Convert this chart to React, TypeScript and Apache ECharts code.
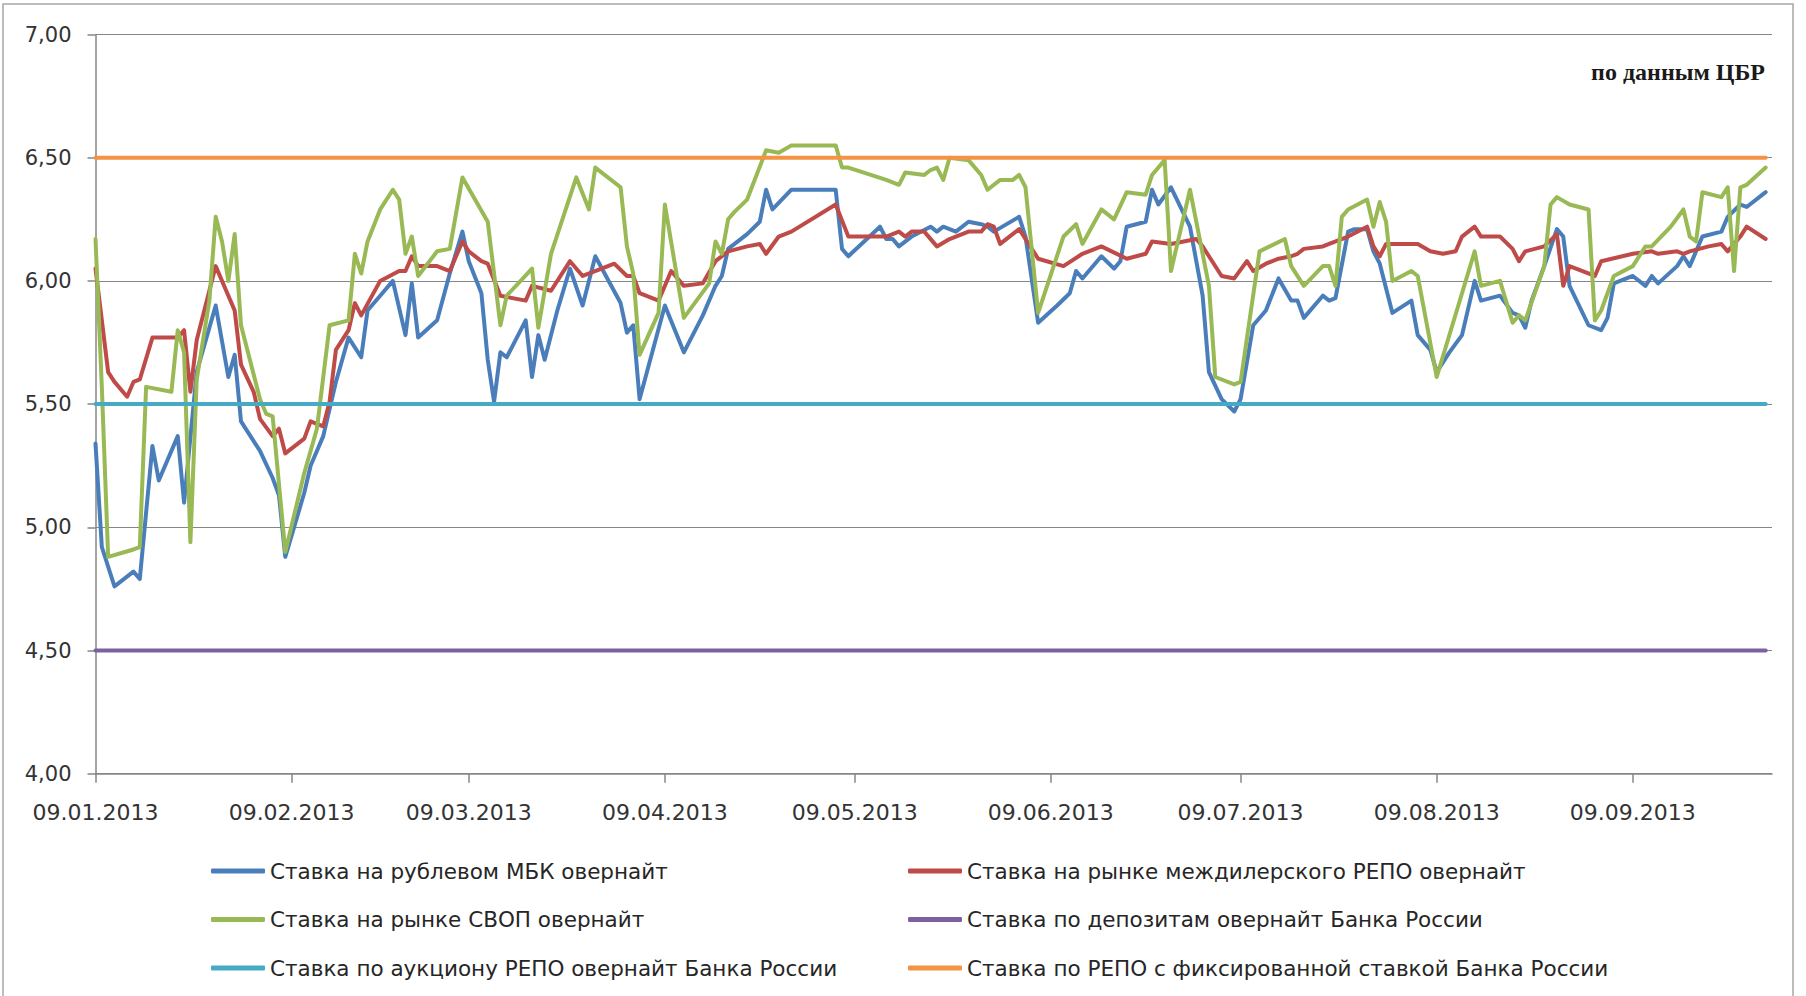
import React, { useEffect, useRef } from 'react';
import * as echarts from 'echarts';

const seriesNames = [
  'Ставка на рублевом МБК овернайт',
  'Ставка на рынке междилерского РЕПО овернайт',
  'Ставка на рынке СВОП овернайт',
  'Ставка по депозитам овернайт Банка России',
  'Ставка по аукциону РЕПО овернайт Банка России',
  'Ставка по РЕПО с фиксированной ставкой Банка России',
];
const seriesColors = ['#4A7EBB', '#BE4B48', '#98B954', '#7D60A0', '#46AAC5', '#F49343'];

const tickLabels = [
  '09.01.2013', '09.02.2013', '09.03.2013', '09.04.2013', '09.05.2013',
  '09.06.2013', '09.07.2013', '09.08.2013', '09.09.2013',
];

const periodStart = '2013-01-09';
const periodEnd = '2013-09-30';
const axisEnd = '2013-10-01';

const depositRate = 4.5;
const auctionRate = 5.5;
const fixedRate = 6.5;

const mbk: [string, number][] = [
  ['2013-01-09', 5.34], ['2013-01-10', 4.92], ['2013-01-12', 4.76], ['2013-01-15', 4.82], ['2013-01-16', 4.79],
  ['2013-01-18', 5.33], ['2013-01-19', 5.19], ['2013-01-22', 5.37], ['2013-01-23', 5.10], ['2013-01-25', 5.63],
  ['2013-01-28', 5.90], ['2013-01-30', 5.61], ['2013-01-31', 5.70], ['2013-02-01', 5.43], ['2013-02-04', 5.31],
  ['2013-02-06', 5.20], ['2013-02-07', 5.13], ['2013-02-08', 4.88], ['2013-02-11', 5.14], ['2013-02-12', 5.25],
  ['2013-02-14', 5.37], ['2013-02-16', 5.59], ['2013-02-18', 5.77], ['2013-02-20', 5.69], ['2013-02-21', 5.88],
  ['2013-02-23', 5.94], ['2013-02-25', 6.00], ['2013-02-27', 5.78], ['2013-02-28', 5.99], ['2013-03-01', 5.77],
  ['2013-03-04', 5.84], ['2013-03-06', 6.03], ['2013-03-08', 6.20], ['2013-03-09', 6.08], ['2013-03-11', 5.95],
  ['2013-03-12', 5.68], ['2013-03-13', 5.51], ['2013-03-14', 5.71], ['2013-03-15', 5.69], ['2013-03-18', 5.84],
  ['2013-03-19', 5.61], ['2013-03-20', 5.78], ['2013-03-21', 5.68], ['2013-03-23', 5.88], ['2013-03-25', 6.05],
  ['2013-03-27', 5.90], ['2013-03-29', 6.10], ['2013-04-02', 5.91], ['2013-04-03', 5.79], ['2013-04-04', 5.82],
  ['2013-04-05', 5.52], ['2013-04-09', 5.90], ['2013-04-12', 5.71], ['2013-04-15', 5.86], ['2013-04-17', 5.98],
  ['2013-04-18', 6.02], ['2013-04-19', 6.13], ['2013-04-22', 6.19], ['2013-04-24', 6.24], ['2013-04-25', 6.37],
  ['2013-04-26', 6.29], ['2013-04-29', 6.37], ['2013-05-06', 6.37], ['2013-05-07', 6.13], ['2013-05-08', 6.10],
  ['2013-05-13', 6.22], ['2013-05-14', 6.17], ['2013-05-15', 6.17], ['2013-05-16', 6.14], ['2013-05-18', 6.18],
  ['2013-05-21', 6.22], ['2013-05-22', 6.20], ['2013-05-23', 6.22], ['2013-05-25', 6.20], ['2013-05-27', 6.24],
  ['2013-05-29', 6.23], ['2013-05-30', 6.22], ['2013-05-31', 6.20], ['2013-06-04', 6.26], ['2013-06-05', 6.18],
  ['2013-06-07', 5.83], ['2013-06-10', 5.90], ['2013-06-12', 5.95], ['2013-06-13', 6.04], ['2013-06-14', 6.01],
  ['2013-06-17', 6.10], ['2013-06-19', 6.05], ['2013-06-20', 6.08], ['2013-06-21', 6.22], ['2013-06-24', 6.24],
  ['2013-06-25', 6.37], ['2013-06-26', 6.31], ['2013-06-28', 6.38], ['2013-07-01', 6.22], ['2013-07-03', 5.94],
  ['2013-07-04', 5.63], ['2013-07-06', 5.52], ['2013-07-08', 5.47], ['2013-07-09', 5.52], ['2013-07-11', 5.82],
  ['2013-07-13', 5.88], ['2013-07-15', 6.01], ['2013-07-17', 5.92], ['2013-07-18', 5.92], ['2013-07-19', 5.85],
  ['2013-07-22', 5.94], ['2013-07-23', 5.92], ['2013-07-24', 5.93], ['2013-07-26', 6.20], ['2013-07-27', 6.21],
  ['2013-07-29', 6.21], ['2013-07-30', 6.12], ['2013-07-31', 6.07], ['2013-08-02', 5.87], ['2013-08-05', 5.92],
  ['2013-08-06', 5.78], ['2013-08-08', 5.72], ['2013-08-09', 5.63], ['2013-08-11', 5.71], ['2013-08-13', 5.78],
  ['2013-08-15', 6.00], ['2013-08-16', 5.92], ['2013-08-19', 5.94], ['2013-08-21', 5.87], ['2013-08-22', 5.86],
  ['2013-08-23', 5.81], ['2013-08-24', 5.92], ['2013-08-26', 6.06], ['2013-08-28', 6.21], ['2013-08-29', 6.18],
  ['2013-08-30', 5.98], ['2013-09-02', 5.82], ['2013-09-04', 5.80], ['2013-09-05', 5.85], ['2013-09-06', 5.99],
  ['2013-09-09', 6.02], ['2013-09-11', 5.98], ['2013-09-12', 6.02], ['2013-09-13', 5.99], ['2013-09-16', 6.06],
  ['2013-09-17', 6.10], ['2013-09-18', 6.06], ['2013-09-20', 6.18], ['2013-09-23', 6.20], ['2013-09-24', 6.26],
  ['2013-09-26', 6.31], ['2013-09-27', 6.30], ['2013-09-30', 6.36],
];

const repo: [string, number][] = [
  ['2013-01-09', 6.05], ['2013-01-11', 5.63], ['2013-01-12', 5.59], ['2013-01-14', 5.53], ['2013-01-15', 5.59],
  ['2013-01-16', 5.60], ['2013-01-18', 5.77], ['2013-01-22', 5.77], ['2013-01-23', 5.80], ['2013-01-24', 5.55],
  ['2013-01-25', 5.76], ['2013-01-28', 6.06], ['2013-01-30', 5.94], ['2013-01-31', 5.88], ['2013-02-01', 5.66],
  ['2013-02-03', 5.55], ['2013-02-04', 5.44], ['2013-02-06', 5.37], ['2013-02-07', 5.40], ['2013-02-08', 5.30],
  ['2013-02-11', 5.36], ['2013-02-12', 5.43], ['2013-02-14', 5.41], ['2013-02-15', 5.51], ['2013-02-16', 5.72],
  ['2013-02-18', 5.80], ['2013-02-19', 5.91], ['2013-02-20', 5.86], ['2013-02-23', 6.00], ['2013-02-26', 6.04],
  ['2013-02-27', 6.04], ['2013-02-28', 6.10], ['2013-03-01', 6.06], ['2013-03-04', 6.06], ['2013-03-06', 6.04],
  ['2013-03-08', 6.16], ['2013-03-09', 6.12], ['2013-03-11', 6.08], ['2013-03-12', 6.07], ['2013-03-14', 5.94],
  ['2013-03-18', 5.92], ['2013-03-19', 5.98], ['2013-03-22', 5.96], ['2013-03-25', 6.08], ['2013-03-27', 6.02],
  ['2013-03-30', 6.05], ['2013-04-01', 6.07], ['2013-04-03', 6.02], ['2013-04-04', 6.02], ['2013-04-05', 5.95],
  ['2013-04-08', 5.92], ['2013-04-10', 6.04], ['2013-04-12', 5.98], ['2013-04-15', 5.99], ['2013-04-17', 6.08],
  ['2013-04-19', 6.12], ['2013-04-22', 6.14], ['2013-04-24', 6.15], ['2013-04-25', 6.11], ['2013-04-27', 6.18],
  ['2013-04-29', 6.20], ['2013-05-06', 6.31], ['2013-05-08', 6.18], ['2013-05-12', 6.18], ['2013-05-14', 6.18],
  ['2013-05-16', 6.20], ['2013-05-17', 6.18], ['2013-05-18', 6.20], ['2013-05-20', 6.20], ['2013-05-22', 6.14],
  ['2013-05-24', 6.17], ['2013-05-27', 6.20], ['2013-05-29', 6.20], ['2013-05-30', 6.23], ['2013-05-31', 6.22],
  ['2013-06-01', 6.15], ['2013-06-04', 6.21], ['2013-06-05', 6.17], ['2013-06-07', 6.09], ['2013-06-11', 6.06],
  ['2013-06-14', 6.11], ['2013-06-17', 6.14], ['2013-06-21', 6.09], ['2013-06-24', 6.11], ['2013-06-25', 6.16],
  ['2013-06-28', 6.15], ['2013-07-02', 6.17], ['2013-07-03', 6.14], ['2013-07-04', 6.10], ['2013-07-06', 6.02],
  ['2013-07-08', 6.01], ['2013-07-10', 6.08], ['2013-07-11', 6.04], ['2013-07-13', 6.07], ['2013-07-15', 6.09],
  ['2013-07-17', 6.10], ['2013-07-18', 6.11], ['2013-07-19', 6.13], ['2013-07-22', 6.14], ['2013-07-23', 6.15],
  ['2013-07-26', 6.18], ['2013-07-29', 6.22], ['2013-07-30', 6.14], ['2013-07-31', 6.10], ['2013-08-01', 6.15],
  ['2013-08-06', 6.15], ['2013-08-08', 6.12], ['2013-08-10', 6.11], ['2013-08-12', 6.12], ['2013-08-13', 6.18],
  ['2013-08-15', 6.22], ['2013-08-16', 6.18], ['2013-08-19', 6.18], ['2013-08-21', 6.13], ['2013-08-22', 6.08],
  ['2013-08-23', 6.12], ['2013-08-26', 6.14], ['2013-08-28', 6.19], ['2013-08-29', 5.98], ['2013-08-30', 6.06],
  ['2013-09-03', 6.02], ['2013-09-04', 6.08], ['2013-09-09', 6.11], ['2013-09-12', 6.12], ['2013-09-13', 6.11],
  ['2013-09-16', 6.12], ['2013-09-17', 6.11], ['2013-09-18', 6.12], ['2013-09-21', 6.14], ['2013-09-23', 6.15],
  ['2013-09-24', 6.12], ['2013-09-26', 6.18], ['2013-09-27', 6.22], ['2013-09-30', 6.17],
];

const swap: [string, number][] = [
  ['2013-01-09', 6.17], ['2013-01-10', 5.57], ['2013-01-11', 4.88], ['2013-01-15', 4.91], ['2013-01-16', 4.92],
  ['2013-01-17', 5.57], ['2013-01-21', 5.55], ['2013-01-22', 5.80], ['2013-01-23', 5.71], ['2013-01-24', 4.94],
  ['2013-01-25', 5.60], ['2013-01-27', 5.92], ['2013-01-28', 6.26], ['2013-01-29', 6.16], ['2013-01-30', 6.00],
  ['2013-01-31', 6.19], ['2013-02-01', 5.82], ['2013-02-04', 5.52], ['2013-02-05', 5.46], ['2013-02-06', 5.45],
  ['2013-02-08', 4.90], ['2013-02-11', 5.22], ['2013-02-13', 5.40], ['2013-02-15', 5.82], ['2013-02-18', 5.84],
  ['2013-02-19', 6.11], ['2013-02-20', 6.03], ['2013-02-21', 6.16], ['2013-02-23', 6.29], ['2013-02-25', 6.37],
  ['2013-02-26', 6.33], ['2013-02-27', 6.11], ['2013-02-28', 6.18], ['2013-03-01', 6.02], ['2013-03-04', 6.12],
  ['2013-03-06', 6.13], ['2013-03-08', 6.42], ['2013-03-12', 6.24], ['2013-03-14', 5.82], ['2013-03-15', 5.94],
  ['2013-03-19', 6.05], ['2013-03-20', 5.81], ['2013-03-22', 6.11], ['2013-03-26', 6.42], ['2013-03-28', 6.29],
  ['2013-03-29', 6.46], ['2013-04-02', 6.38], ['2013-04-03', 6.14], ['2013-04-04', 6.03], ['2013-04-05', 5.70],
  ['2013-04-08', 5.87], ['2013-04-09', 6.31], ['2013-04-12', 5.85], ['2013-04-16', 5.99], ['2013-04-17', 6.16],
  ['2013-04-18', 6.11], ['2013-04-19', 6.25], ['2013-04-20', 6.28], ['2013-04-22', 6.33], ['2013-04-25', 6.53],
  ['2013-04-27', 6.52], ['2013-04-29', 6.55], ['2013-05-06', 6.55], ['2013-05-07', 6.46], ['2013-05-08', 6.46],
  ['2013-05-14', 6.41], ['2013-05-16', 6.39], ['2013-05-17', 6.44], ['2013-05-20', 6.43], ['2013-05-21', 6.45],
  ['2013-05-22', 6.46], ['2013-05-23', 6.41], ['2013-05-24', 6.50], ['2013-05-27', 6.49], ['2013-05-29', 6.43],
  ['2013-05-30', 6.37], ['2013-06-01', 6.41], ['2013-06-03', 6.41], ['2013-06-04', 6.43], ['2013-06-05', 6.38],
  ['2013-06-07', 5.87], ['2013-06-11', 6.18], ['2013-06-13', 6.23], ['2013-06-14', 6.15], ['2013-06-17', 6.29],
  ['2013-06-19', 6.25], ['2013-06-21', 6.36], ['2013-06-24', 6.35], ['2013-06-25', 6.43], ['2013-06-27', 6.49],
  ['2013-06-28', 6.04], ['2013-07-01', 6.37], ['2013-07-04', 5.98], ['2013-07-05', 5.61], ['2013-07-08', 5.58],
  ['2013-07-09', 5.59], ['2013-07-12', 6.12], ['2013-07-16', 6.17], ['2013-07-17', 6.06], ['2013-07-19', 5.98],
  ['2013-07-22', 6.06], ['2013-07-23', 6.06], ['2013-07-24', 5.98], ['2013-07-25', 6.26], ['2013-07-26', 6.29],
  ['2013-07-29', 6.33], ['2013-07-30', 6.22], ['2013-07-31', 6.32], ['2013-08-01', 6.24], ['2013-08-02', 6.00],
  ['2013-08-05', 6.04], ['2013-08-06', 6.02], ['2013-08-09', 5.61], ['2013-08-13', 5.95], ['2013-08-15', 6.12],
  ['2013-08-16', 5.98], ['2013-08-19', 6.00], ['2013-08-21', 5.83], ['2013-08-22', 5.86], ['2013-08-23', 5.84],
  ['2013-08-26', 6.06], ['2013-08-27', 6.31], ['2013-08-28', 6.34], ['2013-08-30', 6.31], ['2013-09-02', 6.29],
  ['2013-09-03', 5.84], ['2013-09-04', 5.88], ['2013-09-06', 6.02], ['2013-09-09', 6.06], ['2013-09-11', 6.14],
  ['2013-09-12', 6.14], ['2013-09-15', 6.22], ['2013-09-17', 6.29], ['2013-09-18', 6.18], ['2013-09-19', 6.16],
  ['2013-09-20', 6.36], ['2013-09-23', 6.34], ['2013-09-24', 6.38], ['2013-09-25', 6.04], ['2013-09-26', 6.38],
  ['2013-09-27', 6.39], ['2013-09-30', 6.46],
];

function isoToTs(s: string): number {
  const [y, m, d] = s.split('-').map(Number);
  return new Date(y, m - 1, d).getTime();
}
function ruToTs(s: string): number {
  const [d, m, y] = s.split('.').map(Number);
  return new Date(y, m - 1, d).getTime();
}
function fmtRu(v: number): string {
  const dt = new Date(v);
  const dd = String(dt.getDate()).padStart(2, '0');
  const mm = String(dt.getMonth() + 1).padStart(2, '0');
  return `${dd}.${mm}.${dt.getFullYear()}`;
}

const FONT = 'DejaVu Sans';

export default function App() {
  const ref = useRef<HTMLDivElement>(null);

  useEffect(() => {
    document.body.style.margin = '0';
    document.body.style.overflow = 'hidden';
    if (!ref.current) return;
    const chart = echarts.init(ref.current, undefined, { renderer: 'svg' });

    const tickValues = tickLabels.map(ruToTs);
    const toData = (arr: [string, number][]) => arr.map(([d, v]) => [isoToTs(d), v]);
    const flat = (v: number) => [[isoToTs(periodStart), v], [isoToTs(periodEnd), v]];

    const lineSeries = (idx: number, data: any[]) => ({
      name: seriesNames[idx],
      type: 'line',
      data,
      showSymbol: false,
      symbol: 'none',
      smooth: false,
      color: seriesColors[idx],
      lineStyle: { width: 4, color: seriesColors[idx], cap: 'round', join: 'round' },
      emphasis: { disabled: true },
    });

    const legendBase = {
      orient: 'vertical',
      top: 858,
      padding: 0,
      itemWidth: 54,
      itemHeight: 5,
      itemGap: 22.5,
      icon: 'roundRect',
      selectedMode: false,
      textStyle: { fontFamily: FONT, fontSize: 21.5, color: '#262626', lineHeight: 26 },
    };

    chart.setOption({
      animation: false,
      backgroundColor: '#ffffff',
      grid: { left: 95.5, right: 34, top: 34.5, bottom: 222.3, containLabel: false },
      xAxis: {
        type: 'value',
        min: isoToTs(periodStart),
        max: isoToTs(axisEnd),
        axisLine: { show: true, lineStyle: { color: '#868686', width: 1.5 } },
        axisTick: { show: true, customValues: tickValues, length: 9, lineStyle: { color: '#868686', width: 1.5 } },
        axisLabel: {
          customValues: tickValues,
          formatter: (v: number) => fmtRu(v),
          fontFamily: FONT,
          fontSize: 22,
          color: '#333333',
          margin: 28,
        },
        splitLine: { show: false },
      },
      yAxis: {
        type: 'value',
        min: 4,
        max: 7,
        interval: 0.5,
        axisLine: { show: true, lineStyle: { color: '#868686', width: 1.5 } },
        axisTick: { show: true, length: 8, lineStyle: { color: '#868686', width: 1.5 } },
        axisLabel: {
          formatter: (v: number) => v.toFixed(2).replace('.', ','),
          fontFamily: FONT,
          fontSize: 21,
          color: '#333333',
          margin: 24,
        },
        splitLine: { show: true, lineStyle: { color: '#868686', width: 1.2 } },
      },
      legend: [
        { ...legendBase, left: 211, data: [seriesNames[0], seriesNames[2], seriesNames[4]] },
        { ...legendBase, left: 908, data: [seriesNames[1], seriesNames[3], seriesNames[5]] },
      ],
      graphic: [
        {
          type: 'rect',
          shape: { x: 3, y: 4, width: 1790, height: 1000 },
          style: { fill: 'none', stroke: '#a6a6a6', lineWidth: 1.5 },
          silent: true,
        },
        {
          type: 'text',
          x: 1765,
          y: 72,
          style: {
            text: 'по данным ЦБР',
            fill: '#1a1a1a',
            font: 'bold 24px "Liberation Serif"',
            textAlign: 'right',
            textVerticalAlign: 'middle',
          },
          silent: true,
        },
      ],
      series: [
        lineSeries(0, toData(mbk)),
        lineSeries(1, toData(repo)),
        lineSeries(2, toData(swap)),
        lineSeries(3, flat(depositRate)),
        lineSeries(4, flat(auctionRate)),
        lineSeries(5, flat(fixedRate)),
      ],
    });

    return () => chart.dispose();
  }, []);

  return <div ref={ref} style={{ width: 1806, height: 996 }} />;
}
